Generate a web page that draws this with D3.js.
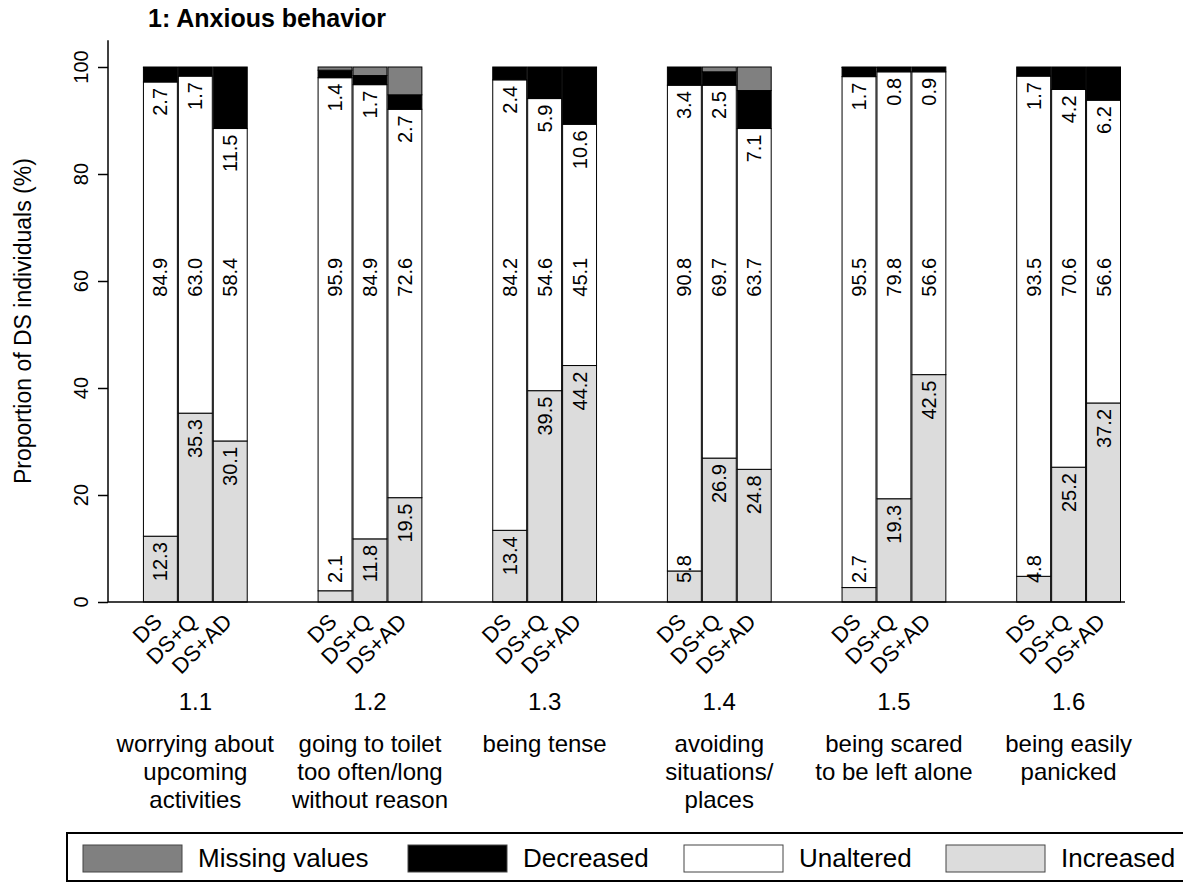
<!DOCTYPE html>
<html>
<head>
<meta charset="utf-8">
<script src="https://cdn.jsdelivr.net/npm/d3@7"></script>
<style>
  html, body { margin: 0; padding: 0; background: #fff; }
  svg { display: block; font-family: "Liberation Sans", Arial, sans-serif; }
</style>
</head>
<body>
<svg id="chart" width="1183" height="882"></svg>
<script>
// ---------- data ----------
const groups = ["1.1", "1.2", "1.3", "1.4", "1.5", "1.6"];
const groupDesc = [
  ["worrying about", "upcoming", "activities"],
  ["going to toilet", "too often/long", "without reason"],
  ["being tense"],
  ["avoiding", "situations/", "places"],
  ["being scared", "to be left alone"],
  ["being easily", "panicked"]
];
const treatments = ["DS", "DS+Q", "DS+AD"];
const increased = [[12.3, 35.3, 30.1], [2.1, 11.8, 19.5], [13.4, 39.5, 44.2], [5.8, 26.9, 24.8], [2.7, 19.3, 42.5], [4.8, 25.2, 37.2]];
const unaltered = [[84.9, 63.0, 58.4], [95.9, 84.9, 72.6], [84.2, 54.6, 45.1], [90.8, 69.7, 63.7], [95.5, 79.8, 56.6], [93.5, 70.6, 56.6]];
const decreased = [[2.7, 1.7, 11.5], [1.4, 1.7, 2.7], [2.4, 5.9, 10.6], [3.4, 2.5, 7.1], [1.7, 0.8, 0.9], [1.7, 4.2, 6.2]];
const missing = [[0.1, 0, 0], [0.6, 1.6, 5.2], [0, 0, 0.1], [0, 0.9, 4.4], [0.1, 0.1, 0], [0, 0, 0]];
const yTicks = [0, 20, 40, 60, 80, 100];
const legendLabels = ["Missing values", "Decreased", "Unaltered", "Increased"];
const title = "1: Anxious behavior";
const yTitle = "Proportion of DS individuals (%)";

// ---------- table ----------
const keys = ["increased", "unaltered", "decreased", "missing"];
const colors = { missing: "#808080", decreased: "#000000", unaltered: "#ffffff", increased: "#dcdcdc" };
const rows = [];
groups.forEach((g, gi) => {
  treatments.forEach((t, ti) => {
    rows.push({
      gi, ti, group: g, treatment: t,
      increased: increased[gi][ti],
      unaltered: unaltered[gi][ti],
      decreased: decreased[gi][ti],
      missing: missing[gi][ti],
      slot: 1 + gi * 5 + ti
    });
  });
});

const svg = d3.select("#chart");
const x = d3.scaleLinear().domain([0, 29]).range([108, 1121]);
const y = d3.scaleLinear().domain([0, 100]).range([602, 67]);

const stack = d3.stack().keys(keys);
const series = stack(rows);

// bars
const gBars = svg.append("g");
series.forEach(s => {
  gBars.selectAll(null)
    .data(s)
    .enter()
    .append("rect")
    .attr("x", d => x(d.data.slot) + 0.5)
    .attr("width", d => x(d.data.slot + 1) - x(d.data.slot) - 1)
    .attr("y", d => y(d[1]))
    .attr("height", d => Math.max(0, y(d[0]) - y(d[1])))
    .attr("fill", colors[s.key])
    .attr("stroke", "#000")
    .attr("stroke-width", 1);
});

// axis
const yAxis = d3.axisLeft(y).tickValues(yTicks).tickSize(10).tickFormat("");
const ga = svg.append("g").attr("transform", "translate(108,0)").call(yAxis);
ga.select(".domain").remove();
ga.selectAll(".tick line").attr("stroke", "#000").attr("stroke-width", 1.5);
svg.append("line").attr("x1", 108).attr("x2", 108).attr("y1", y(105)).attr("y2", y(0))
  .attr("stroke", "#000").attr("stroke-width", 1.5);
svg.append("line").attr("x1", 108).attr("x2", x(29) + 4).attr("y1", y(0)).attr("y2", y(0))
  .attr("stroke", "#000").attr("stroke-width", 1.5);

svg.selectAll(".ytl").data(yTicks).enter().append("text")
  .attr("transform", d => `translate(88,${y(d)}) rotate(-90)`)
  .attr("text-anchor", "middle")
  .attr("font-size", 20)
  .text(d => d);

svg.append("text")
  .attr("transform", `translate(31,${y(52.5)}) rotate(-90)`)
  .attr("text-anchor", "middle")
  .attr("font-size", 23)
  .text(yTitle);

svg.append("text")
  .attr("x", 148).attr("y", 27)
  .attr("font-size", 25).attr("font-weight", "bold")
  .text(title);

// value labels
const fs = 20;
const lab = svg.append("g").attr("font-size", fs);
function cx(d) { return (x(d.slot) + x(d.slot + 1)) / 2; }
rows.forEach(d => {
  // increased
  const t1 = lab.append("text").attr("text-anchor", "end").attr("dy", "0.35em")
    .text(d.increased.toFixed(1));
  const len1 = t1.node().getComputedTextLength();
  let yEnd1 = Math.min(y(d.increased) + 6, 583 - len1);
  t1.attr("transform", `translate(${cx(d)},${yEnd1}) rotate(-90)`);
  // unaltered
  lab.append("text").attr("text-anchor", "middle").attr("dy", "0.35em")
    .attr("transform", `translate(${cx(d)},${y(60.7)}) rotate(-90)`)
    .text(d.unaltered.toFixed(1));
  // decreased
  const top = d.increased + d.unaltered;
  lab.append("text").attr("text-anchor", "end").attr("dy", "0.35em")
    .attr("transform", `translate(${cx(d)},${y(top) + 6}) rotate(-90)`)
    .text(d.decreased.toFixed(1));
});

// treatment labels
svg.append("g").attr("font-size", 22).selectAll("text").data(rows).enter().append("text")
  .attr("text-anchor", "end")
  .attr("transform", d => `translate(${cx(d) + 3},${623}) rotate(-45)`)
  .text(d => d.treatment);

// group labels
const gc = gi => (x(1 + gi * 5) + x(4 + gi * 5)) / 2;
svg.append("g").attr("font-size", 24).selectAll("text").data(groups).enter().append("text")
  .attr("x", (d, i) => gc(i)).attr("y", 710).attr("text-anchor", "middle").text(d => d);
groupDesc.forEach((lines, gi) => {
  lines.forEach((ln, li) => {
    svg.append("text").attr("font-size", 24).attr("text-anchor", "middle")
      .attr("x", gc(gi)).attr("y", 752 + li * 28).text(ln);
  });
});

// legend
svg.append("rect").attr("x", 67).attr("y", 833).attr("width", 1140).attr("height", 48)
  .attr("fill", "none").attr("stroke", "#000").attr("stroke-width", 2);
const legKeys = ["missing", "decreased", "unaltered", "increased"];
const legX = [83, 408, 684, 946];
legKeys.forEach((k, i) => {
  svg.append("rect").attr("x", legX[i]).attr("y", 845).attr("width", 99).attr("height", 27)
    .attr("fill", colors[k]).attr("stroke", "#444").attr("stroke-width", 1);
  svg.append("text").attr("x", legX[i] + 115).attr("y", 867).attr("font-size", 26)
    .text(legendLabels[i]);
});
</script>
</body>
</html>
